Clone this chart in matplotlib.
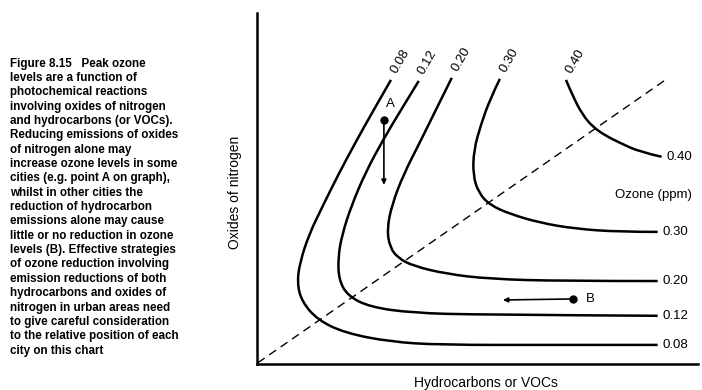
import matplotlib
matplotlib.use("Agg")
import matplotlib.pyplot as plt
from matplotlib.path import Path
from matplotlib.patches import PathPatch

plt.rcParams['font.family'] = ['Liberation Sans', 'DejaVu Sans']

# ozone isopleths (arbitrary emission units 0-100)
levels = ["0.08", "0.12", "0.20", "0.30", "0.40"]

x_008 = [30.4, 26.5, 22.4, 18.4, 14.7, 11.8, 9.8, 9.1, 10.2, 13.8, 20.0, 30.2, 41.5, 66.4, 90.9]
y_008 = [80.9, 72.4, 63.2, 53.8, 44.4, 36.8, 29.1, 23.1, 17.7, 12.5, 8.8, 6.3, 5.4, 5.4, 5.4]

x_012 = [36.7, 32.7, 28.6, 24.7, 21.5, 19.3, 18.4, 18.6, 20.6, 25.6, 35.4, 50.6, 90.9]
y_012 = [80.6, 72.4, 63.8, 54.7, 45.3, 36.8, 30.2, 23.9, 19.4, 16.2, 14.5, 14.0, 13.7]

x_020 = [44.2, 40.6, 37.0, 33.3, 30.6, 29.5, 30.2, 32.0, 35.4, 43.1, 52.8, 68.7, 90.9]
y_020 = [81.5, 72.4, 63.2, 54.1, 45.3, 38.2, 33.1, 30.2, 27.9, 25.6, 24.2, 23.6, 23.6]

x_030 = [55.1, 52.8, 50.8, 49.2, 49.0, 50.3, 52.8, 57.4, 64.2, 72.1, 82.3, 90.9]
y_030 = [81.2, 75.2, 68.1, 61.0, 53.8, 48.7, 45.3, 42.7, 40.2, 38.5, 37.6, 37.6]

x_040 = [70.1, 71.7, 73.9, 76.2, 79.1, 82.3, 86.8, 91.8]
y_040 = [80.9, 76.1, 70.9, 67.5, 65.0, 63.0, 60.4, 59.0]

curves_x = [x_008, x_012, x_020, x_030, x_040]
curves_y = [y_008, y_012, y_020, y_030, y_040]

# ratio line
diag_x = [0.2, 93.0]
diag_y = [0.3, 81.2]

# city examples: start point and arrow end
point_a = (28.8, 69.5)
arrow_a = (28.8, 51.0)
point_b = (71.7, 18.5)
arrow_b = (55.8, 18.2)

caption = ("Figure 8.15   Peak ozone\n"
           "levels are a function of\n"
           "photochemical reactions\n"
           "involving oxides of nitrogen\n"
           "and hydrocarbons (or VOCs).\n"
           "Reducing emissions of oxides\n"
           "of nitrogen alone may\n"
           "increase ozone levels in some\n"
           "cities (e.g. point A on graph),\n"
           "whilst in other cities the\n"
           "reduction of hydrocarbon\n"
           "emissions alone may cause\n"
           "little or no reduction in ozone\n"
           "levels (B). Effective strategies\n"
           "of ozone reduction involving\n"
           "emission reductions of both\n"
           "hydrocarbons and oxides of\n"
           "nitrogen in urban areas need\n"
           "to give careful consideration\n"
           "to the relative position of each\n"
           "city on this chart")


def smooth_path(xs, ys):
    # quadratic bezier pieces through the midpoints, read points as controls
    pts = list(zip(xs, ys))
    verts = [pts[0]]
    codes = [Path.MOVETO]
    for i in range(1, len(pts) - 1):
        mid = ((pts[i][0] + pts[i + 1][0]) / 2, (pts[i][1] + pts[i + 1][1]) / 2)
        if i == len(pts) - 2:
            mid = pts[-1]
        verts += [pts[i], mid]
        codes += [Path.CURVE3, Path.CURVE3]
    return Path(verts, codes)


fig = plt.figure(figsize=(7.02, 3.9), dpi=100)
ax = fig.add_axes([0.366, 0.067, 0.628, 0.9])

for cx, cy, lev in zip(curves_x, curves_y, levels):
    ax.add_patch(PathPatch(smooth_path(cx, cy), fill=False, edgecolor='black',
                           lw=1.8, capstyle='butt'))
    # label on the top end, rotated
    ax.text(cx[0] + 0.6, cy[0] + 2.0, lev, rotation=60, rotation_mode='anchor',
            ha='left', va='center', fontsize=9.5)
    # label on the right end
    ax.text(cx[-1] + 1.2, cy[-1], lev, ha='left', va='center', fontsize=9.5)

ax.plot(diag_x, diag_y, color='black', lw=1.0, dashes=(6, 4))

ax.plot(*point_a, 'o', color='black', ms=5)
ax.annotate("", xy=arrow_a, xytext=point_a,
            arrowprops=dict(arrowstyle='-|>', color='black', lw=1.2,
                            mutation_scale=7, shrinkA=0, shrinkB=0))
ax.text(point_a[0] + 1.4, point_a[1] + 4.5, "A", ha='center', va='center', fontsize=9.5)

ax.plot(*point_b, 'o', color='black', ms=5)
ax.annotate("", xy=arrow_b, xytext=point_b,
            arrowprops=dict(arrowstyle='-|>', color='black', lw=1.2,
                            mutation_scale=7, shrinkA=0, shrinkB=0))
ax.text(point_b[0] + 3.0, point_b[1], "B", ha='left', va='center', fontsize=9.5)

ax.text(81.2, 48.1, "Ozone (ppm)", ha='left', va='center', fontsize=9.5)

ax.set_xlim(0, 100)
ax.set_ylim(0, 100)
ax.set_xticks([])
ax.set_yticks([])
for s in ['top', 'right']:
    ax.spines[s].set_visible(False)
for s in ['left', 'bottom']:
    ax.spines[s].set_linewidth(1.8)

ax.set_xlabel("Hydrocarbons or VOCs", fontsize=10, va='center')
ax.xaxis.set_label_coords(0.52, -0.054)
ax.set_ylabel("Oxides of nitrogen", fontsize=10, va='center')
ax.yaxis.set_label_coords(-0.05, 0.49)

fig.text(0.0142, 0.852, caption, ha='left', va='top', fontsize=8.4,
         fontweight='bold', linespacing=1.26)

fig.savefig("out.png", dpi=100)
